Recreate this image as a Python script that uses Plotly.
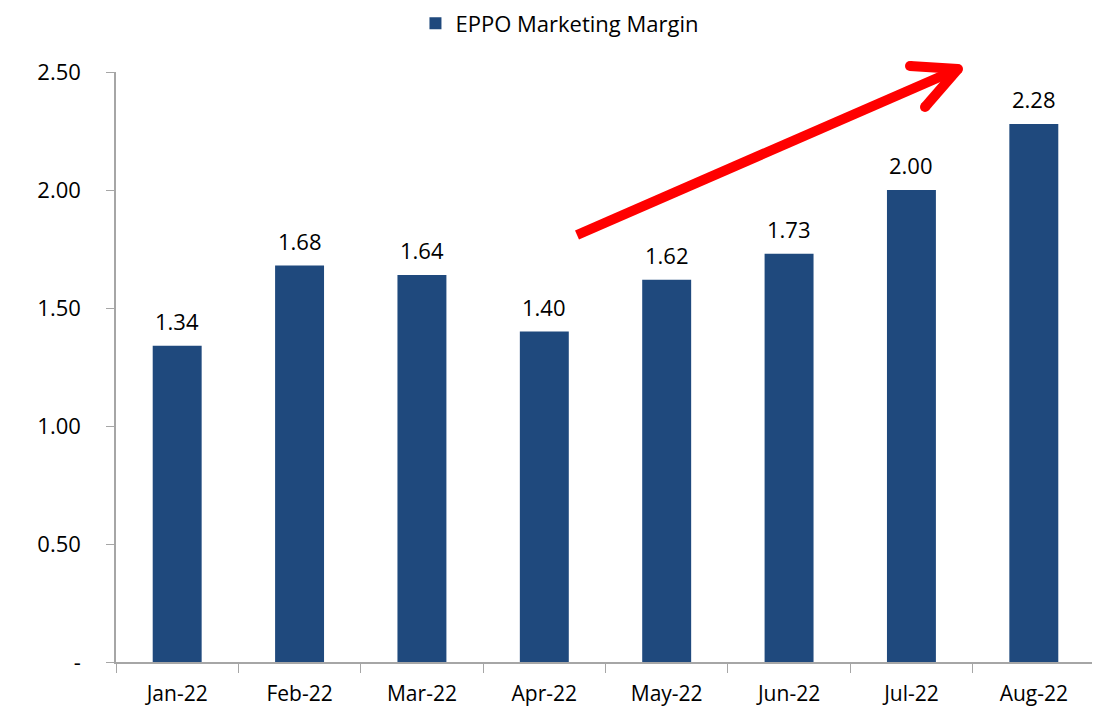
import plotly.graph_objects as go

months = ["Jan-22", "Feb-22", "Mar-22", "Apr-22", "May-22", "Jun-22", "Jul-22", "Aug-22"]
margin_values = [1.34, 1.68, 1.64, 1.40, 1.62, 1.73, 2.00, 2.28]
y_tick_vals = [0, 0.5, 1.0, 1.5, 2.0, 2.5]
y_tick_text = ["-", "0.50", "1.00", "1.50", "2.00", "2.50"]

FONT = "Open Sans, Liberation Sans, Arial, sans-serif"
OFF = 8  # default body margin of the page
W, H = 1092, 703
L, T = 116 - OFF, 72 - OFF
B = H - (662 - OFF)
R = W - (1095 - OFF)
PW, PH = W - L - R, H - T - B


def px(xp, yp):
    """page pixel -> paper coords"""
    return (xp - OFF - L) / PW, (H - B - (yp - OFF)) / PH


fig = go.Figure()
fig.add_trace(go.Bar(
    x=months, y=margin_values, name="EPPO Marketing Margin",
    marker=dict(color="#1F497D", line=dict(width=0)),
    width=0.4,
))

annotations = [
    dict(x=m, y=v, xref="x", yref="y", text=f"{v:.2f}", showarrow=False,
         yanchor="bottom", yshift=8, font=dict(size=22, color="black", family=FONT))
    for m, v in zip(months, margin_values)
]

# red trend arrow
arrow_color = "red"
segs = [((577, 235), (958, 69)), ((958, 69), (910, 66)), ((958, 69), (925, 107))]
shapes = []
for (x0, y0), (x1, y1) in segs:
    a0, b0 = px(x0, y0)
    a1, b1 = px(x1, y1)
    shapes.append(dict(type="line", xref="paper", yref="paper", x0=a0, y0=b0, x1=a1, y1=b1,
                       line=dict(color=arrow_color, width=10), layer="above"))
for (cx, cy) in [(910, 66), (925, 107), (958, 69)]:
    a, b = px(cx, cy)
    r = 5 / PW
    rv = 5 / PH
    shapes.append(dict(type="circle", xref="paper", yref="paper", x0=a - r, x1=a + r, y0=b - rv, y1=b + rv,
                       fillcolor=arrow_color, line=dict(width=0)))

fig.update_layout(
    width=W, height=H,
    margin=dict(l=L, r=R, t=T, b=B),
    plot_bgcolor="white", paper_bgcolor="white",
    font=dict(family=FONT, size=22, color="black"),
    showlegend=True,
    legend=dict(orientation="h", xref="container", yref="container", x=0.505, y=0.978,
                xanchor="center", yanchor="middle", font=dict(size=22, family=FONT)),
    shapes=shapes,
    annotations=annotations,
    xaxis=dict(showline=True, linecolor="#a6a6a6", linewidth=1.5, ticks="outside", tickson="boundaries",
               ticklen=9, tickcolor="#a6a6a6", tickfont=dict(size=21), showgrid=False,
               ticklabelstandoff=12),
    yaxis=dict(range=[0, 2.5], tickvals=y_tick_vals, ticktext=y_tick_text, showline=True,
               linecolor="#a6a6a6", linewidth=1.5, ticks="outside", ticklen=8, tickcolor="#a6a6a6",
               showgrid=False, zeroline=False, tickfont=dict(size=22), ticklabelstandoff=21),
)

fig.write_html("out.html")
